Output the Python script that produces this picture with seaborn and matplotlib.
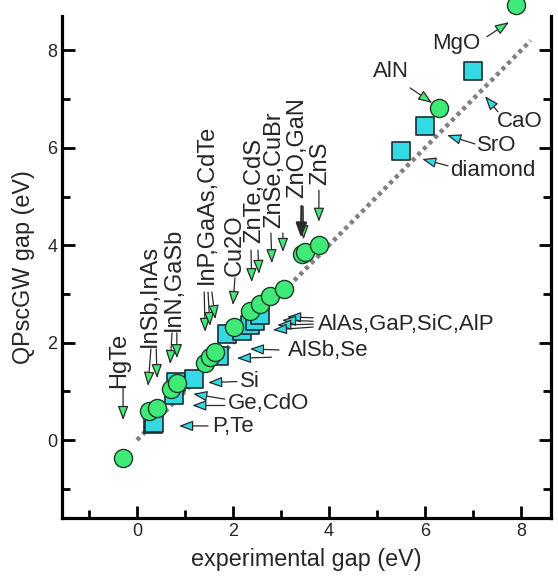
import matplotlib
matplotlib.use("Agg")
import matplotlib.pyplot as plt
import seaborn as sns
import pandas as pd
from matplotlib.ticker import MultipleLocator

# ---------------- data ----------------
circle_names = ["HgTe", "InSb", "InAs", "InN", "GaSb", "InP", "GaAs", "CdTe", "Cu2O",
                "ZnTe", "CdS", "ZnSe", "CuBr", "ZnO", "GaN", "ZnS", "AlN", "MgO"]
circle_exp = [-0.30, 0.24, 0.42, 0.70, 0.83, 1.42, 1.52, 1.62, 2.02,
              2.36, 2.56, 2.78, 3.07, 3.44, 3.50, 3.79, 6.30, 7.90]
circle_qp = [-0.37, 0.60, 0.66, 1.04, 1.17, 1.59, 1.70, 1.80, 2.33,
             2.64, 2.80, 2.95, 3.10, 3.83, 3.86, 4.01, 6.81, 8.93]

square_names = ["P", "Te", "Ge", "CdO", "Si", "AlSb", "Se", "AlAs", "GaP", "SiC", "AlP",
                "diamond", "SrO", "CaO"]
square_exp = [0.33, 0.36, 0.78, 0.82, 1.18, 1.71, 1.88, 2.18, 2.35, 2.45, 2.56, 5.50, 6.00, 7.00]
square_qp = [0.33, 0.36, 0.92, 1.20, 1.26, 1.72, 2.18, 2.24, 2.36, 2.45, 2.57, 5.94, 6.45, 7.58]

ideal_x = [0.0, 8.2]
ideal_y = [0.0, 8.2]

x_label = "experimental gap (eV)"
y_label = "QPscGW gap (eV)"

# ---------------- style ----------------
sns.set_theme(style="ticks")
plt.rcParams["font.family"] = ["Liberation Sans", "DejaVu Sans"]

GREEN = "#40ea76"
CYAN = "#33d9e3"
EDGE = "#1e3a2a"
TXT = "#262626"

fig = plt.figure(figsize=(5.58, 5.77), dpi=100)
ax = fig.add_axes([62 / 558, (577 - 518) / 577, (551 - 62) / 558, (518 - 16) / 577])

sns.lineplot(x=ideal_x, y=ideal_y, ax=ax, color="#808080", lw=3.2,
             linestyle=(0, (0.9, 0.9)), zorder=2)

sq = pd.DataFrame({"exp": square_exp, "qp": square_qp, "name": square_names})
ci = pd.DataFrame({"exp": circle_exp, "qp": circle_qp, "name": circle_names})
sns.scatterplot(data=sq, x="exp", y="qp", ax=ax, marker="s", s=165, color=CYAN,
                edgecolor="#1a2e33", linewidth=1.2, zorder=3, clip_on=False)
sns.scatterplot(data=ci, x="exp", y="qp", ax=ax, marker="o", s=170, color=GREEN,
                edgecolor=EDGE, linewidth=1.0, zorder=4, clip_on=False)

ax.set_xlim(-1.5625, 8.625)
ax.set_ylim(-1.60, 8.706)
ax.set_xlabel(x_label, fontsize=16.8, color=TXT, labelpad=6)
ax.set_ylabel(y_label, fontsize=16.8, color=TXT, labelpad=9)

ax.xaxis.set_major_locator(MultipleLocator(2))
ax.xaxis.set_minor_locator(MultipleLocator(1))
ax.yaxis.set_major_locator(MultipleLocator(2))
ax.yaxis.set_minor_locator(MultipleLocator(1))
ax.tick_params(which="both", direction="in", width=2, color="black",
               left=True, bottom=True, right=True, top=False,
               labelsize=13, labelcolor=TXT)
ax.tick_params(which="major", length=9)
ax.tick_params(which="minor", length=6)
for s in ["left", "bottom", "right"]:
    ax.spines[s].set_visible(True)
    ax.spines[s].set_linewidth(2.3)
    ax.spines[s].set_color("black")
ax.spines["top"].set_visible(False)


def arrow(tail, tip, fc, lw=0.9):
    ax.annotate("", xy=tip, xytext=tail, zorder=5,
                arrowprops=dict(arrowstyle="-|>,head_length=0.85,head_width=0.32",
                                mutation_scale=10, shrinkA=0, shrinkB=0,
                                facecolor=fc, edgecolor="#2a2a2a", lw=lw))


# top labels: (text, text x, text bottom y, [(tail, tip), ...])
top_labels = [
    ("HgTe", -0.375, 1.07, [((-0.29, 1.07), (-0.29, 0.41))]),
    ("InSb,InAs", 0.27, 1.91, [((0.29, 1.87), (0.23, 1.11)), ((0.40, 1.87), (0.42, 1.27))]),
    ("InN,GaSb", 0.77, 2.24, [((0.73, 2.20), (0.69, 1.56)), ((0.83, 2.20), (0.83, 1.68))]),
    ("InP,GaAs,CdTe", 1.46, 3.20, [((1.40, 3.04), (1.42, 2.22)), ((1.48, 3.04), (1.52, 2.34)),
                                   ((1.56, 3.04), (1.63, 2.48))]),
    ("Cu2O", 2.04, 3.37, [((2.04, 3.33), (2.00, 2.77))]),
    ("ZnTe,CdS", 2.44, 4.05, [((2.375, 3.90), (2.39, 3.24)), ((2.52, 3.90), (2.54, 3.41))]),
    ("ZnSe,CuBr", 2.85, 4.35, [((2.79, 4.25), (2.81, 3.63)), ((3.04, 4.25), (3.04, 3.86))]),
    ("ZnO,GaN", 3.33, 4.97, [((3.46, 4.80), (3.47, 4.12)), ((3.43, 4.80), (3.42, 4.15))]),
    ("ZnS", 3.81, 5.24, [((3.79, 5.13), (3.79, 4.48))]),
]
for i, (text, tx, ty, arrows) in enumerate(top_labels):
    ax.text(tx, ty, text, rotation=90, ha="center", va="bottom", fontsize=17, color=TXT, zorder=6)
    for j, (tail, tip) in enumerate(arrows):
        if text == "ZnO,GaN" and j == 1:
            arrow(tail, tip, "#1f3326", lw=1.8)
        else:
            arrow(tail, tip, GREEN)

# side labels: (text, x left, y center, [(tail, tip)], arrow colour)
side_labels = [
    ("MgO", 6.15, 8.15, [((7.29, 8.28), (7.75, 8.58))], GREEN),
    ("AlN", 4.92, 7.56, [((5.69, 7.23), (6.15, 6.92))], GREEN),
    ("CaO", 7.50, 6.53, [((7.52, 6.74), (7.25, 7.06))], CYAN),
    ("SrO", 7.08, 6.04, [((7.04, 6.08), (6.46, 6.26))], CYAN),
    ("diamond", 6.52, 5.54, [((6.48, 5.63), (5.94, 5.77))], CYAN),
    ("AlAs,GaP,SiC,AlP", 3.77, 2.38, [((3.67, 2.51), (3.125, 2.53)), ((3.67, 2.44), (3.02, 2.46)),
                                      ((3.67, 2.38), (2.92, 2.36)), ((3.67, 2.32), (2.83, 2.26))], CYAN),
    ("AlSb,Se", 3.15, 1.83, [((2.96, 1.85), (2.35, 1.87)), ((2.80, 1.70), (2.08, 1.68))], CYAN),
    ("Si", 2.15, 1.20, [((2.08, 1.20), (1.48, 1.18))], CYAN),
    ("Ge,CdO", 1.90, 0.75, [((1.83, 0.84), (1.17, 0.95)), ((1.83, 0.71), (1.15, 0.71))], CYAN),
    ("P,Te", 1.56, 0.27, [((1.48, 0.29), (0.875, 0.29))], CYAN),
]
for text, tx, ty, arrows, fc in side_labels:
    ax.text(tx, ty, text, ha="left", va="center", fontsize=16, color=TXT, zorder=6)
    for tail, tip in arrows:
        arrow(tail, tip, fc)

fig.savefig("out.png", dpi=100)
